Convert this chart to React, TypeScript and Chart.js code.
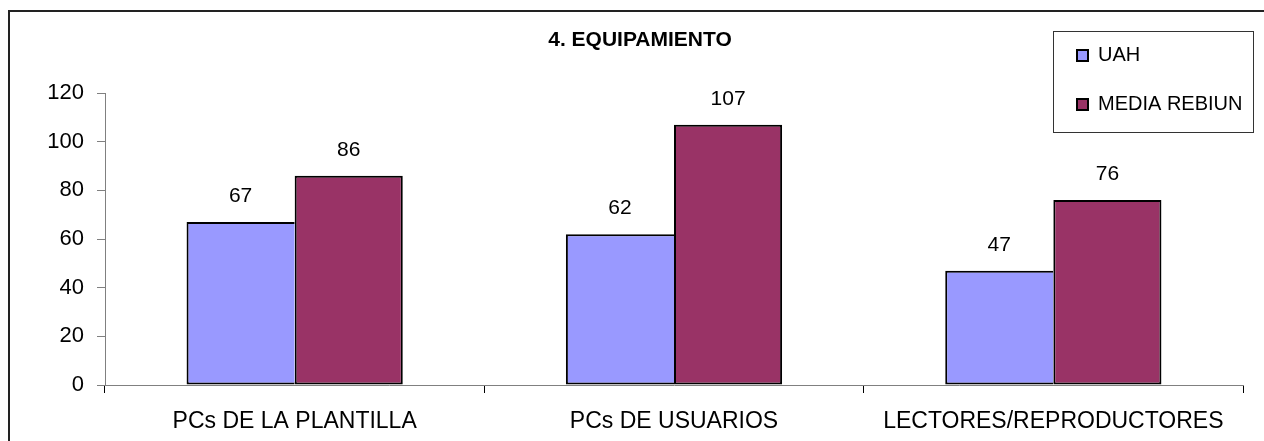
import React, { useEffect, useRef } from "react";
import { Chart, registerables } from "chart.js";

Chart.register(...registerables);

const TITLE = "4. EQUIPAMIENTO";
const categories = ["PCs DE LA PLANTILLA", "PCs DE USUARIOS", "LECTORES/REPRODUCTORES"];
const seriesNames = ["UAH", "MEDIA REBIUN"];
const uahValues = [67, 62, 47];
const rebiunValues = [86, 107, 76];
const yTicks = [0, 20, 40, 60, 80, 100, 120];
const seriesColors = ["#9999FF", "#993366"];

const FONT = "'Liberation Sans', Arial, sans-serif";

const dataLabelPlugin = {
  id: "dataLabels",
  afterDatasetsDraw(chart: any) {
    const ctx = chart.ctx;
    ctx.save();
    ctx.font = `21px ${FONT}`;
    ctx.fillStyle = "#000";
    ctx.textAlign = "center";
    ctx.textBaseline = "alphabetic";
    chart.data.datasets.forEach((ds: any, i: number) => {
      const meta = chart.getDatasetMeta(i);
      meta.data.forEach((bar: any, j: number) => {
        ctx.fillText(String(ds.data[j]), bar.x, bar.y - 20);
      });
    });
    ctx.restore();
  },
};

const titlePlugin = {
  id: "customTitle",
  afterDraw(chart: any) {
    const ctx = chart.ctx;
    ctx.save();
    ctx.font = `bold 21px ${FONT}`;
    ctx.fillStyle = "#000";
    ctx.textAlign = "center";
    ctx.textBaseline = "alphabetic";
    ctx.fillText(TITLE, 630, 34);
    ctx.restore();
  },
};

const legendPlugin = {
  id: "customLegend",
  afterDraw(chart: any) {
    const ctx = chart.ctx;
    ctx.save();
    const bx = 1043, by = 19, bw = 200, bh = 101;
    ctx.fillStyle = "#fff";
    ctx.fillRect(bx, by, bw, bh);
    ctx.strokeStyle = "#333";
    ctx.lineWidth = 1;
    ctx.strokeRect(bx + 0.5, by + 0.5, bw, bh);
    ctx.font = `20px ${FONT}`;
    ctx.textAlign = "left";
    ctx.textBaseline = "alphabetic";
    const rows = [38, 87];
    chart.data.datasets.forEach((ds: any, i: number) => {
      const y = rows[i];
      ctx.fillStyle = ds.backgroundColor;
      ctx.fillRect(1067, y, 11, 11);
      ctx.strokeStyle = "#000";
      ctx.lineWidth = 2;
      ctx.strokeRect(1067, y, 11, 11);
      ctx.fillStyle = "#000";
      ctx.fillText(ds.label, 1088, y + 11);
    });
    ctx.restore();
  },
};

export default function App() {
  const canvasRef = useRef<HTMLCanvasElement | null>(null);

  useEffect(() => {
    document.body.style.overflow = "hidden";
    const canvas = canvasRef.current;
    if (!canvas) return;
    const chart = new Chart(canvas, {
      type: "bar",
      data: {
        labels: categories,
        datasets: [
          {
            label: seriesNames[0],
            data: uahValues,
            backgroundColor: seriesColors[0],
            borderColor: "#000",
            borderWidth: { left: 2, top: 2, right: 0, bottom: 2 },
            borderSkipped: false,
          },
          {
            label: seriesNames[1],
            data: rebiunValues,
            backgroundColor: seriesColors[1],
            borderColor: "#000",
            borderWidth: 2,
            borderSkipped: false,
          },
        ],
      },
      options: {
        responsive: false,
        animation: false,
        devicePixelRatio: 1,
        layout: { padding: { top: 81, right: 21, bottom: 0, left: 0 } },
        datasets: {
          bar: { categoryPercentage: 0.57, barPercentage: 1 },
        },
        plugins: {
          legend: { display: false },
          title: { display: false },
          tooltip: { enabled: false },
        },
        scales: {
          x: {
            afterFit(scale: any) {
              scale.height = 56;
            },
            grid: {
              display: true,
              offset: true,
              drawOnChartArea: false,
              drawTicks: true,
              tickLength: 8,
              color: "#000",
              lineWidth: 1,
            },
            border: { display: true, color: "#808080", width: 1 },
            ticks: {
              color: "#000",
              font: { family: FONT, size: 23 },
              padding: 15,
              maxRotation: 0,
              autoSkip: false,
            },
          },
          y: {
            min: 0,
            max: 120,
            afterFit(scale: any) {
              scale.width = 95;
            },
            afterBuildTicks(scale: any) {
              scale.ticks = yTicks.map((v) => ({ value: v }));
            },
            grid: {
              display: true,
              drawOnChartArea: false,
              drawTicks: true,
              tickLength: 8,
              color: "#808080",
              lineWidth: 1,
            },
            border: { display: true, color: "#808080", width: 1 },
            ticks: {
              color: "#000",
              font: { family: FONT, size: 22 },
              padding: 13,
            },
          },
        },
      },
      plugins: [dataLabelPlugin, titlePlugin, legendPlugin],
    } as any);
    return () => chart.destroy();
  }, []);

  return (
    <div style={{ position: "fixed", left: 0, top: 0, width: 1264, height: 441, overflow: "hidden", background: "#fff" }}>
      <div
        style={{
          position: "absolute",
          left: 8,
          top: 10,
          width: 1256,
          height: 431,
          borderTop: "2px solid #222",
          borderLeft: "2px solid #222",
          boxSizing: "border-box",
        }}
      />
      <canvas
        ref={canvasRef}
        width={1254}
        height={429}
        style={{ position: "absolute", left: 10, top: 12, width: 1254, height: 429 }}
      />
    </div>
  );
}
